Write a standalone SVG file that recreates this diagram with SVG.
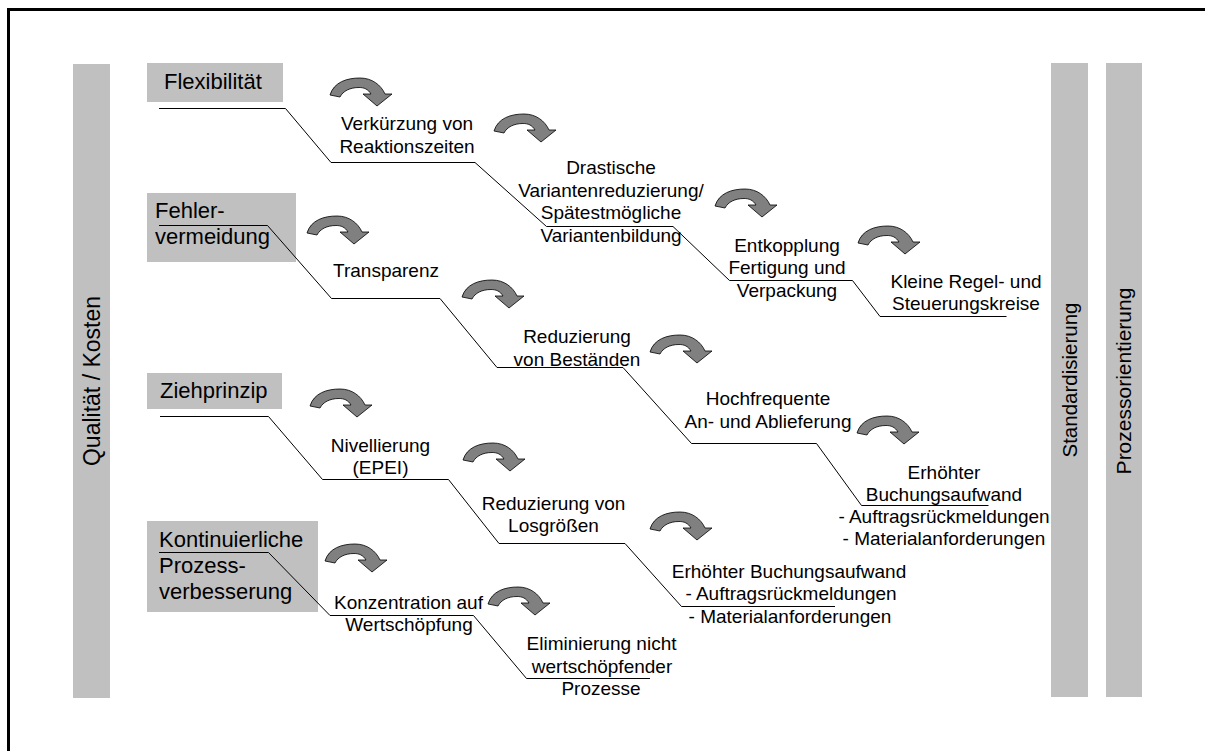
<svg xmlns="http://www.w3.org/2000/svg" xmlns:xlink="http://www.w3.org/1999/xlink" width="1205" height="751" viewBox="0 0 1205 751">
  <style>
    .bar { fill: #c0c0c0; }
    .head { font-family: "Liberation Sans", Arial, sans-serif; font-size: 22px; fill: #000; }
    .lbl { font-family: "Liberation Sans", Arial, sans-serif; font-size: 19px; fill: #000; text-anchor: middle; }
    .vert { font-family: "Liberation Sans", Arial, sans-serif; font-size: 21px; fill: #000; text-anchor: middle; }
    .step { fill: none; stroke: #000; stroke-width: 1; }
    .turn { fill: #808080; stroke: #000; stroke-width: 0.8; stroke-linejoin: round; }
  </style>
  <defs>
    <!-- curved "next step" arrow, 62 x 28 -->
    <path id="turn" class="turn" d="M0,17 C4,4 17,0 30,0 C42,0 51,7 55,16 L62,16 L47,28 L33,16 L41,16 C38,11 34,9.5 29,9.5 C20,9.5 13,13 10,19 Z"/>
  </defs>

  <rect width="1205" height="751" fill="#fff"/>
  <!-- outer frame -->
  <rect x="8.5" y="9.5" width="1400" height="900" fill="none" stroke="#000" stroke-width="3"/>

  <!-- side bars -->
  <g id="qualitaet-kosten">
    <rect class="bar" x="73" y="64" width="37" height="634"/>
    <text class="vert" style="font-size:23px" transform="translate(99.5,381) rotate(-90)">Qualität / Kosten</text>
  </g>
  <g id="standardisierung">
    <rect class="bar" x="1051" y="63" width="37" height="634"/>
    <text class="vert" style="font-size:20.5px" transform="translate(1076.5,380) rotate(-90)">Standardisierung</text>
  </g>
  <g id="prozessorientierung">
    <rect class="bar" x="1106" y="63" width="36" height="634"/>
    <text class="vert" transform="translate(1131,381) rotate(-90)">Prozessorientierung</text>
  </g>

  <!-- category headers -->
  <g id="flexibilitaet">
    <rect class="bar" x="147" y="63" width="136" height="39"/>
    <text class="head" x="164" y="89">Flexibilität</text>
  </g>
  <g id="fehlervermeidung">
    <rect class="bar" x="147" y="193" width="149" height="69"/>
    <text class="head" x="155" y="218">Fehler-</text>
    <text class="head" x="155" y="244">vermeidung</text>
  </g>
  <g id="ziehprinzip">
    <rect class="bar" x="147" y="373" width="135" height="36"/>
    <text class="head" x="160" y="398">Ziehprinzip</text>
  </g>
  <g id="kvp">
    <rect class="bar" x="147" y="521" width="171" height="91"/>
    <text class="head" x="159" y="547">Kontinuierliche</text>
    <text class="head" x="159" y="573">Prozess-</text>
    <text class="head" x="159" y="599">verbesserung</text>
  </g>

  <!-- step lines -->
  <g id="connectors">
    <polyline class="step" points="159,108.5 285.5,108.5 331,162.5 475,162.5 546.5,226.5 673,226.5 729.5,280.5 852.5,280.5 880,316.5 1006.5,316.5"/>
    <polyline class="step" points="159,225.5 267.5,225.5 331.5,298.5 440,298.5 497,367.5 623,367.5 691.5,443.5 816.5,443.5 861.5,505.5 988.5,505.5"/>
    <polyline class="step" points="160,416.5 268.5,416.5 322.5,479.5 448.5,479.5 499,543.5 625,543.5 681.5,606.5 835,606.5"/>
    <polyline class="step" points="159,552.5 268.5,552.5 330,615.5 473.5,615.5 526.5,678.5 650,678.5"/>
  </g>

  <!-- curved arrows -->
  <g id="arrows">
    <use xlink:href="#turn" x="330" y="78"/>
    <use xlink:href="#turn" x="494" y="114"/>
    <use xlink:href="#turn" x="715" y="189"/>
    <use xlink:href="#turn" x="858" y="226"/>
    <use xlink:href="#turn" x="307" y="216"/>
    <use xlink:href="#turn" x="462" y="280"/>
    <use xlink:href="#turn" x="650" y="335"/>
    <use xlink:href="#turn" x="857" y="416"/>
    <use xlink:href="#turn" x="310" y="389"/>
    <use xlink:href="#turn" x="463" y="443"/>
    <use xlink:href="#turn" x="650" y="512"/>
    <use xlink:href="#turn" x="325" y="544"/>
    <use xlink:href="#turn" x="488" y="587"/>
  </g>

  <!-- step labels -->
  <g id="verkuerzung">
    <text class="lbl" x="407" y="130">Verkürzung von</text>
    <text class="lbl" x="407" y="152.5">Reaktionszeiten</text>
  </g>
  <g id="variantenreduzierung">
    <text class="lbl" x="611" y="174">Drastische</text>
    <text class="lbl" x="611" y="196.5">Variantenreduzierung/</text>
    <text class="lbl" x="611" y="219">Spätestmögliche</text>
    <text class="lbl" x="611" y="241.5">Variantenbildung</text>
  </g>
  <g id="entkopplung">
    <text class="lbl" x="787" y="251.5">Entkopplung</text>
    <text class="lbl" x="787" y="274">Fertigung und</text>
    <text class="lbl" x="787" y="296.5">Verpackung</text>
  </g>
  <g id="regelkreise">
    <text class="lbl" x="966" y="287.5">Kleine Regel- und</text>
    <text class="lbl" x="966" y="310">Steuerungskreise</text>
  </g>
  <g id="transparenz">
    <text class="lbl" x="386" y="276.5">Transparenz</text>
  </g>
  <g id="bestaende">
    <text class="lbl" x="577" y="343">Reduzierung</text>
    <text class="lbl" x="577" y="365.5">von Beständen</text>
  </g>
  <g id="hochfrequent">
    <text class="lbl" x="768" y="405">Hochfrequente</text>
    <text class="lbl" x="768" y="427.5">An- und Ablieferung</text>
  </g>
  <g id="buchung-1">
    <text class="lbl" x="944" y="478.5">Erhöhter</text>
    <text class="lbl" x="944" y="500.5">Buchungsaufwand</text>
    <text class="lbl" x="944" y="523">- Auftragsrückmeldungen</text>
    <text class="lbl" x="944" y="545">- Materialanforderungen</text>
  </g>
  <g id="nivellierung">
    <text class="lbl" x="380.5" y="451.5">Nivellierung</text>
    <text class="lbl" x="380.5" y="474">(EPEI)</text>
  </g>
  <g id="losgroessen">
    <text class="lbl" x="553.5" y="510">Reduzierung von</text>
    <text class="lbl" x="553.5" y="532">Losgrößen</text>
  </g>
  <g id="buchung-2">
    <text class="lbl" x="789" y="577.5">Erhöhter Buchungsaufwand</text>
    <text class="lbl" x="791" y="600">- Auftragsrückmeldungen</text>
    <text class="lbl" x="790" y="622.5">- Materialanforderungen</text>
  </g>
  <g id="wertschoepfung">
    <text class="lbl" x="408.5" y="608.5">Konzentration auf</text>
    <text class="lbl" x="409" y="630.5">Wertschöpfung</text>
  </g>
  <g id="eliminierung">
    <text class="lbl" x="601.5" y="650">Eliminierung nicht</text>
    <text class="lbl" x="602" y="672.5">wertschöpfender</text>
    <text class="lbl" x="601" y="695">Prozesse</text>
  </g>
</svg>
